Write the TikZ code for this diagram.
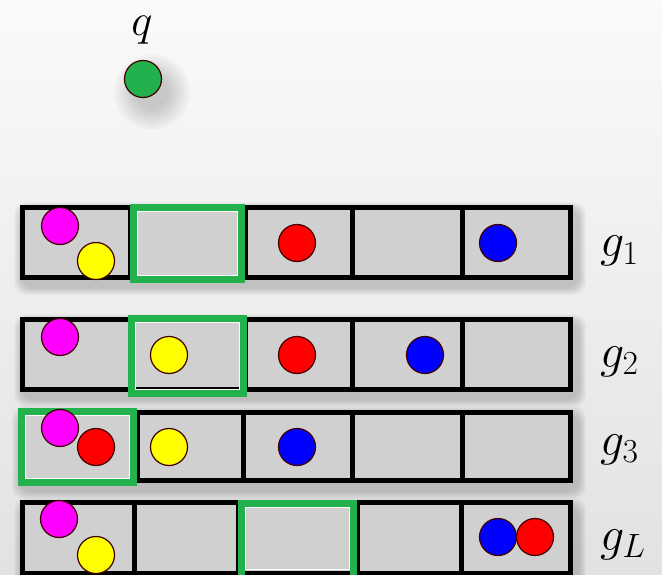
\RequirePackage{fix-cm}
\documentclass[tikz,border=0pt]{standalone}
\usetikzlibrary{calc}
\definecolor{boxgreen}{RGB}{34,177,76}
\definecolor{cellgray}{RGB}{208,208,208}
\definecolor{bgtop}{RGB}{250,250,250}
\definecolor{bgbot}{RGB}{226,226,226}
\definecolor{ballmag}{RGB}{255,0,255}
\definecolor{ballyel}{RGB}{255,255,0}
\definecolor{ballred}{RGB}{255,0,0}
\definecolor{ballblue}{RGB}{0,0,255}
\begin{document}
\begin{tikzpicture}[x=1pt,y=-1pt,
  rowline/.style={draw=black,line width=5pt,line join=miter},
  cellfill/.style={fill=cellgray},
  hilite/.style={draw=boxgreen,line width=7pt},
  shine/.style={draw=white,line width=0.8pt},
  ball/.style={circle,draw=black!75!red,line width=1.2pt,minimum size=37pt,inner sep=0pt},
  lab/.style={font=\fontsize{48}{56}\selectfont,anchor=base west,inner sep=0pt},
  softshadow/.style={fill=black,opacity=0.022,rounded corners=12pt}]
\useasboundingbox (0,0) rectangle (662,575);
\shade[top color=bgtop,bottom color=bgbot] (0,0) rectangle (662,575);

% soft shadows
\foreach \i in {1,...,8}{
  \fill[softshadow] (22-\i,210-\i) rectangle (578+\i,287+\i);
  \fill[softshadow] (22-\i,322-\i) rectangle (578+\i,399+\i);
  \fill[softshadow] (20-\i,414-\i) rectangle (578+\i,491+\i);
  \fill[softshadow] (22-\i,506-\i) rectangle (578+\i,586+\i);
  \fill[black,opacity=0.022] (152,92) circle ({14+3*\i});
}

% q
\node[lab,anchor=base,font=\fontsize{45}{52}\selectfont] (qlab) at (142,36) {$q$};
\node[ball,fill=boxgreen] (q) at (143,79) {};

% ---------- row g1 ----------
\fill[cellfill] (22.5,207.5) rectangle (570,277.5);
\draw[rowline] (22.5,207.5) rectangle (570,277.5);
\foreach \x in {130,245,352,462} \draw[rowline] (\x,207.5) -- (\x,277.5);
\draw[hilite] (133.5,207.5) rectangle (241.5,279.5);
\draw[shine] (137.5,211.5) rectangle (237.5,275.5);
\node[ball,fill=ballmag] (m1) at (60,226) {};
\node[ball,fill=ballyel] (y1) at (96,261) {};
\node[ball,fill=ballred] (r1) at (297,243) {};
\node[ball,fill=ballblue] (b1) at (498,243) {};
\node[lab] (g1) at (600,257) {$g_1$};

% ---------- row g2 ----------
\fill[cellfill] (22.5,319.5) rectangle (570,389.5);
\draw[rowline] (22.5,319.5) rectangle (570,389.5);
\foreach \x in {130,245,352,462} \draw[rowline] (\x,319.5) -- (\x,389.5);
\draw[hilite] (131.5,318.5) rectangle (243.5,393.5);
\draw[shine] (135.5,322.5) rectangle (239.5,389.5);
\node[ball,fill=ballmag] (m2) at (60,337) {};
\node[ball,fill=ballyel] (y2) at (169,355) {};
\node[ball,fill=ballred] (r2) at (297,355) {};
\node[ball,fill=ballblue] (b2) at (425,355) {};
\node[lab] (g2) at (600,367) {$g_2$};

% ---------- row g3 ----------
\fill[cellfill] (22.5,412.5) rectangle (570,480.5);
\draw[rowline] (22.5,412.5) rectangle (570,480.5);
\foreach \x in {137,243,352,462} \draw[rowline] (\x,412.5) -- (\x,480.5);
\draw[hilite] (21.5,411.5) rectangle (133.5,482.5);
\draw[shine] (25.5,415.5) rectangle (129.5,478.5);
\node[ball,fill=ballmag] (m3) at (60,428) {};
\node[ball,fill=ballred] (r3) at (96,447) {};
\node[ball,fill=ballyel] (y3) at (169,447) {};
\node[ball,fill=ballblue] (b3) at (297,447) {};
\node[lab] (g3) at (600,455) {$g_3$};

% ---------- row gL ----------
\fill[cellfill] (22.5,502.5) rectangle (570,573);
\draw[rowline] (22.5,502.5) rectangle (570,573);
\foreach \x in {134,238,357,461} \draw[rowline] (\x,502.5) -- (\x,573);
\draw[hilite] (241.5,503.5) rectangle (353.5,578);
\draw[shine] (245.5,507.5) rectangle (349.5,569);
\node[ball,fill=ballmag] (m4) at (59,519) {};
\node[ball,fill=ballyel] (y4) at (96,555) {};
\node[ball,fill=ballblue] (b4) at (498,537) {};
\node[ball,fill=ballred] (r4) at (535,537) {};
\node[lab] (gL) at (600,550) {$g_L$};
\end{tikzpicture}
\end{document}
